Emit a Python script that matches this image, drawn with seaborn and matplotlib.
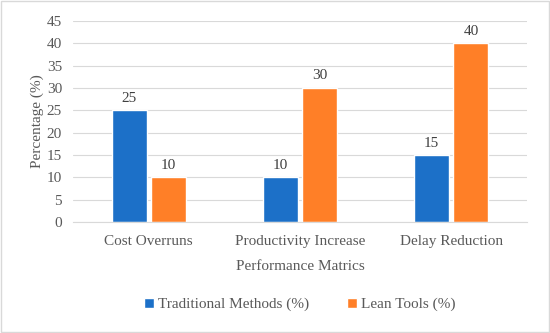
import matplotlib
matplotlib.use("Agg")
import matplotlib.pyplot as plt
import seaborn as sns
import pandas as pd
from matplotlib.patches import Rectangle

categories = ["Cost Overruns", "Productivity Increase", "Delay Reduction"]
series_names = ["Traditional Methods (%)", "Lean Tools (%)"]
traditional = [25, 10, 15]
lean = [10, 30, 40]
yticks = [0, 5, 10, 15, 20, 25, 30, 35, 40, 45]

df = pd.DataFrame({
    "Category": categories * 2,
    "Series": [series_names[0]] * 3 + [series_names[1]] * 3,
    "Value": traditional + lean,
})

sns.set_style("white")
plt.rcParams["font.family"] = ["Liberation Serif", "DejaVu Serif"]
text_color = "#595959"
colors = {series_names[0]: "#1c70c8", series_names[1]: "#ff7f27"}
fs = 11

fig = plt.figure(figsize=(5.5, 3.33), dpi=100)
ax = fig.add_axes([0.133, 0.333, 0.825, 0.604])

sns.barplot(data=df, x="Category", y="Value", hue="Series", palette=colors,
            width=0.52, gap=0.11, ax=ax, saturation=1, legend=True)

ax.set_ylim(0, 45)
ax.set_yticks(yticks)
ax.set_xlim(-0.5, 2.5)
ax.yaxis.grid(True, color="#d9d9d9", linewidth=0.8)
ax.set_axisbelow(True)
for s in ["top", "right", "left"]:
    ax.spines[s].set_visible(False)
ax.spines["bottom"].set_color("#d9d9d9")
ax.tick_params(axis="both", length=0, colors=text_color, labelsize=fs)
ax.tick_params(axis="x", pad=9)
ax.tick_params(axis="y", pad=8)
ax.set_ylabel("Percentage (%)", color=text_color, fontsize=fs, labelpad=2)
ax.set_xlabel("Performance Matrics", color=text_color, fontsize=fs, labelpad=9)

for cont in ax.containers:
    ax.bar_label(cont, padding=4, color="#404040", fontsize=fs)

handles, labels = ax.get_legend_handles_labels()
ax.legend(handles, labels, loc="center", bbox_to_anchor=(0.5, -0.41), ncol=2,
          frameon=False, fontsize=fs, handlelength=0.6, handleheight=0.6,
          columnspacing=2.5, handletextpad=0.3, labelcolor=text_color)

fig.patches.append(Rectangle((0.002, 0.003), 0.996, 0.994, transform=fig.transFigure,
                             fill=False, edgecolor="#d9d9d9", linewidth=1))

fig.savefig("out.png", dpi=100)
